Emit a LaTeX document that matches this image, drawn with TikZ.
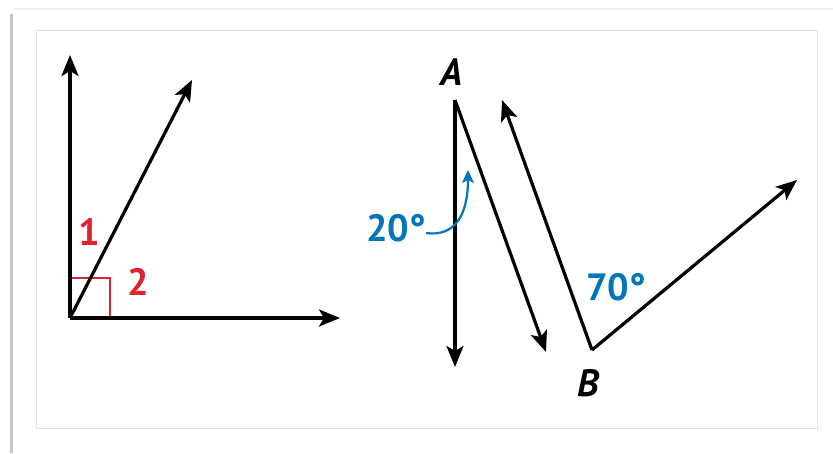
\documentclass[tikz,border=0pt]{standalone}
\usepackage{fontspec}
\setmainfont{PT Sans}
\usetikzlibrary{arrows.meta}
\definecolor{anglered}{RGB}{222,36,48}
\definecolor{angleblue}{RGB}{0,118,184}
\begin{document}
\begin{tikzpicture}[x=1pt,y=-1pt,ray/.style={line width=3.2pt, -{Stealth[length=21pt,width=17pt,inset=5pt]}},sqmark/.style={draw=anglered, line width=1.4pt},redlabel/.style={text=anglered, font=\fontsize{38}{38}\selectfont\bfseries, inner sep=0pt},bluelabel/.style={text=angleblue, font=\fontsize{38}{38}\selectfont\bfseries, inner sep=0pt},ptlabel/.style={font=\fontsize{38}{38}\selectfont\bfseries\itshape, inner sep=0pt},bendarrow/.style={draw=angleblue, line width=2.2pt, -{Stealth[length=13pt,width=12pt,inset=3pt]}}]
\useasboundingbox (0,0) rectangle (833,453);
% frame
\fill[white] (0,0) rectangle (833,453);
\draw[gray!45, line width=3pt] (11,453) -- (11,14);
\draw[gray!12, line width=2pt] (14,9) -- (833,9);
\draw[gray!22, fill=white, line width=1pt] (36,30) rectangle (817,428);
% left figure
\coordinate (O) at (70,318);
\coordinate (up) at (70,55);
\coordinate (right) at (340,318);
\coordinate (slant) at (192,80);
\draw[sqmark] (70,278) -- (110,278) -- (110,318);
\draw[ray] (O) -- (up);
\draw[ray] (O) -- (right);
\draw[ray] (O) -- (slant);
\node[redlabel] (one) at (89,232) {1};
\node[redlabel] (two) at (138,282) {2};
% right figure
\coordinate (A) at (455,100);
\coordinate (down) at (455,367);
\coordinate (Adown) at (546,352);
\coordinate (B) at (592,350);
\coordinate (Bup) at (502,100);
\coordinate (Bray) at (797,180);
\draw[ray] (A) -- (down);
\draw[ray] (A) -- (Adown);
\draw[ray] (B) -- (Bup);
\draw[ray] (B) -- (Bray);
\node[ptlabel] (labA) at (452,72) {A};
\node[ptlabel] (labB) at (588,383) {B};
\node[bluelabel] (twenty) at (396,228) {20°};
\node[bluelabel] (seventy) at (616,287) {70°};
\draw[bendarrow] (twenty.east) ++(0,5) .. controls (455,237) and (468,215) .. (468,170);
\end{tikzpicture}
\end{document}
